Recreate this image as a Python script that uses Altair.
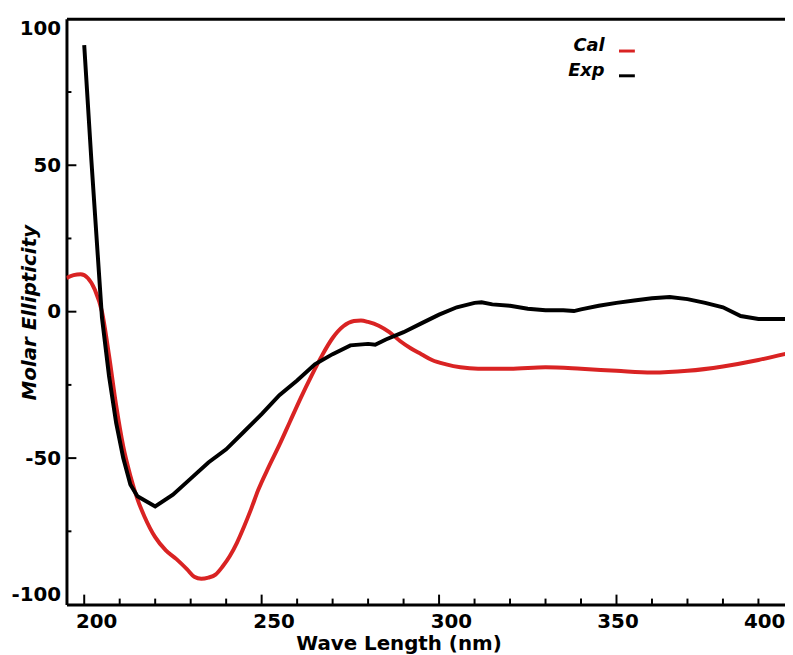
import altair as alt
import pandas as pd

# Experimental spectrum (Exp)
exp_wl = [200, 202, 205, 207, 209, 211, 213, 215, 220, 225, 230, 235, 240, 245, 250,
          255, 260, 265, 270, 275, 280, 282, 285, 290, 295, 300, 305, 310, 312, 315,
          320, 325, 330, 335, 338, 340, 345, 350, 355, 360, 365, 370, 375, 380, 385,
          390, 398]
exp_me = [91, 52, -2, -22, -38, -50, -59, -63, -66.5, -62.5, -57, -51.5, -47, -41, -35,
          -28.5, -23.5, -18, -14.5, -11.5, -11, -11.3, -9.5, -7, -4, -1, 1.5, 3, 3.2, 2.5,
          2, 1, 0.5, 0.5, 0.2, 0.8, 2, 3, 3.8, 4.6, 5, 4.3, 3, 1.5, -1.5,
          -2.5, -2.5]

# Calculated spectrum (Cal)
cal_wl = [195, 197, 199, 201, 203, 205, 207, 209, 211, 213, 215, 217, 220, 223, 226,
          229, 231, 233, 235, 237, 239, 241, 243, 245, 247, 249, 252, 255, 258, 261,
          264, 267, 270, 273, 276, 278, 280, 283, 286, 289, 292, 295, 298, 302, 306,
          311, 320, 330, 340, 350, 360, 370, 380, 390, 398]
cal_me = [11.5, 12.5, 12.8, 11.5, 7.5, 0, -15, -32, -46, -56, -64, -70, -77, -81.5, -84.5,
          -88, -90.5, -91.2, -90.8, -89.8, -87, -83.5, -79, -73.5, -67.5, -61, -53, -45.5, -37.5, -29.5,
          -22, -15, -9, -5, -3.2, -3, -3.5, -4.8, -7, -10, -12.5, -14.5, -16.5, -18, -19,
          -19.5, -19.5, -19, -19.5, -20.2, -20.8, -20.2, -18.7, -16.5, -14.3]

series_names = ["Cal", "Exp"]
series_colors = ["#d92323", "#000000"]

x_label_values = [200, 250, 300, 350, 400]
y_label_values = [-100, -50, 0, 50, 100]
x_major_ticks = [200, 250, 300, 350]
x_minor_ticks = [210, 220, 230, 240, 260, 270, 280, 290, 310, 320, 330, 340, 360, 370, 380, 390]
y_major_ticks = [-50, 0, 50]
y_minor_ticks = [-75, -25, 25, 75]

W, H = 725, 591
FONT = "DejaVu Sans"

# the reference is cropped at the right: the x range runs a little past the visible plot
xs = alt.Scale(domain=[195, 400], range=[0, 734], nice=False, zero=False)
ys = alt.Scale(domain=[-100, 100], nice=False, zero=False)
cs = alt.Scale(domain=series_names, range=series_colors)

df_cal = pd.DataFrame({"wl": cal_wl, "me": cal_me, "series": "Cal"})
df_exp = pd.DataFrame({"wl": exp_wl, "me": exp_me, "series": "Exp"})

x_axis = alt.Axis(
    values=x_label_values, ticks=False, tickSize=0, grid=False,
    domain=True, domainWidth=3, domainColor="black",
    labelFont=FONT, labelFontWeight="bold", labelFontSize=20, labelColor="black",
    labelPadding=7, labelOverlap=False, labelFlush=False,
    labelOffset={"condition": [{"test": "datum.value == 400", "value": -30},
                               {"test": "datum.value == 350", "value": 1}],
                 "value": 12},
    title="Wave Length (nm)", titleFont=FONT, titleFontWeight="bold", titleFontSize=20,
    titleColor="black", titleX=335, titleY=29, titleBaseline="top",
)
y_axis = alt.Axis(
    values=y_label_values, ticks=False, tickSize=0, grid=False,
    domain=True, domainWidth=3, domainColor="black",
    labelFont=FONT, labelFontWeight="bold", labelFontSize=20, labelColor="black",
    labelPadding=6, labelOverlap=False, labelFlush=True,
    labelExpr="'' + datum.value",
    title="Molar Ellipticity", titleFont=FONT, titleFontWeight="bold", titleFontStyle="italic",
    titleFontSize=20, titleColor="black", titleX=-37, titleY=296, titleBaseline="middle",
    titleAngle=270,
)
legend = alt.Legend(
    orient="none", legendX=556, legendY=23, title=None,
    symbolType="stroke", symbolSize=256, symbolStrokeWidth=3,
    labelAlign="right", labelOffset={"expr": "-32"}, labelBaseline="alphabetic",
    labelFont=FONT, labelFontWeight="bold", labelFontStyle="italic", labelFontSize=18,
    labelColor="black", rowPadding=4,
)

cal_line = alt.Chart(df_cal).mark_line(strokeWidth=4, interpolate="monotone", clip=True).encode(
    x=alt.X("wl:Q", scale=xs, axis=x_axis),
    y=alt.Y("me:Q", scale=ys, axis=y_axis),
    color=alt.Color("series:N", scale=cs, legend=legend),
)
exp_line = alt.Chart(df_exp).mark_line(strokeWidth=4, clip=True).encode(
    x=alt.X("wl:Q", scale=xs, axis=None),
    y=alt.Y("me:Q", scale=ys),
    color=alt.Color("series:N", scale=cs, legend=legend),
)

# inward-pointing ticks (major 10 px, minor 6 px)
xmaj = alt.Chart(pd.DataFrame({"wl": x_major_ticks})).mark_tick(
    color="black", thickness=2, size=10, orient="vertical", opacity=1).encode(
    x=alt.X("wl:Q", scale=xs, axis=None), y=alt.value(H - 5))
xmin = alt.Chart(pd.DataFrame({"wl": x_minor_ticks})).mark_tick(
    color="black", thickness=2, size=6, orient="vertical", opacity=1).encode(
    x=alt.X("wl:Q", scale=xs, axis=None), y=alt.value(H - 3))
ymaj = alt.Chart(pd.DataFrame({"me": y_major_ticks})).mark_rule(color="black", strokeWidth=2).encode(
    y=alt.Y("me:Q", scale=ys), x=alt.value(0), x2=alt.value(10))
ymin = alt.Chart(pd.DataFrame({"me": y_minor_ticks})).mark_rule(color="black", strokeWidth=2).encode(
    y=alt.Y("me:Q", scale=ys), x=alt.value(0), x2=alt.value(5))

top_frame = alt.Chart(pd.DataFrame({"wl": x_major_ticks})).mark_rule(opacity=0).encode(
    x=alt.X("wl:Q", scale=xs, axis=alt.Axis(orient="top", labels=False, ticks=False, grid=False,
                                             domain=True, domainWidth=3, domainColor="black",
                                             title=None)))

chart = alt.layer(cal_line, exp_line, xmaj, xmin, ymaj, ymin, top_frame).resolve_axis(
    x="independent"
).properties(
    width=W, height=H,
    autosize=alt.AutoSizeParams(type="none"),
    padding={"left": 59, "top": 8, "right": 0, "bottom": 48},
    background="white",
).configure_view(stroke=None)

chart.save("out.html", embed_options={"renderer": "svg", "actions": False})
